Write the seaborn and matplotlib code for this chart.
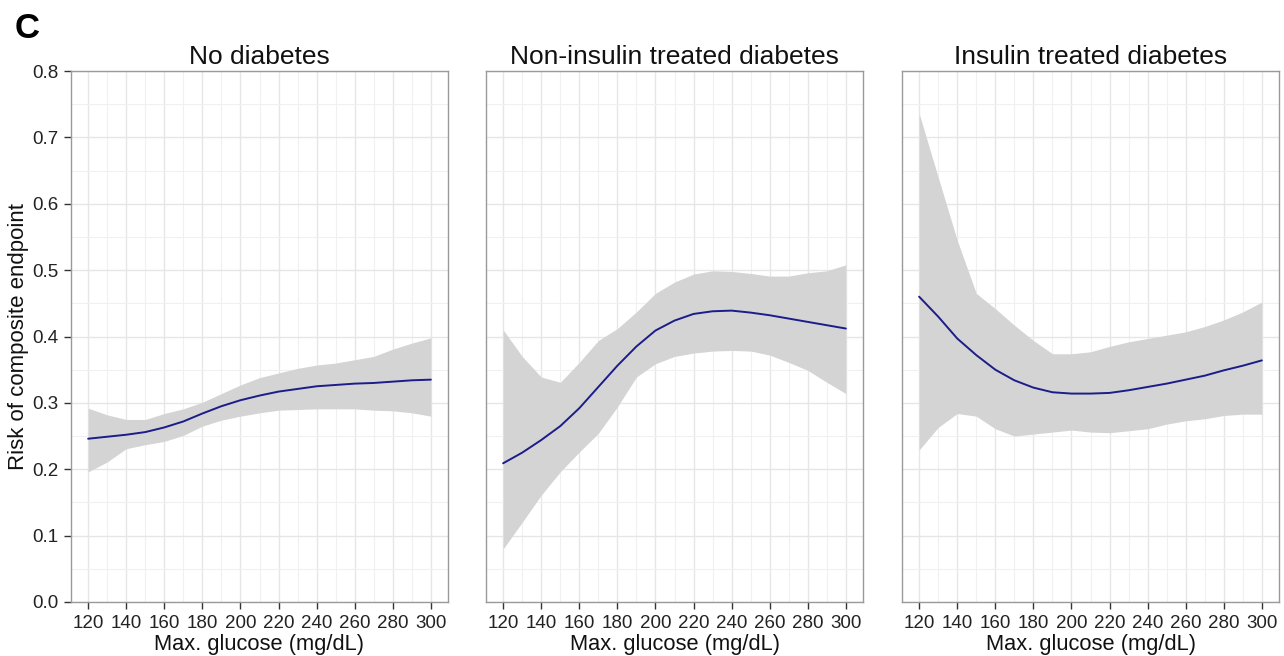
import numpy as np
import pandas as pd
import matplotlib
matplotlib.use("Agg")
import matplotlib.pyplot as plt
from matplotlib.ticker import MultipleLocator
import seaborn as sns

# ---------------- data ----------------
glucose = [120, 130, 140, 150, 160, 170, 180, 190, 200, 210,
           220, 230, 240, 250, 260, 270, 280, 290, 300]

panel_titles = ["No diabetes", "Non-insulin treated diabetes", "Insulin treated diabetes"]

# No diabetes
nodm_fit = [0.246, 0.249, 0.252, 0.256, 0.263, 0.272, 0.284, 0.295, 0.304, 0.311,
            0.317, 0.321, 0.325, 0.327, 0.329, 0.330, 0.332, 0.334, 0.335]
nodm_hi = [0.292, 0.282, 0.275, 0.275, 0.284, 0.291, 0.301, 0.314, 0.327, 0.338,
           0.345, 0.352, 0.357, 0.360, 0.365, 0.370, 0.381, 0.390, 0.398]
nodm_lo = [0.196, 0.211, 0.231, 0.237, 0.242, 0.251, 0.265, 0.274, 0.280, 0.285,
           0.289, 0.290, 0.291, 0.291, 0.291, 0.289, 0.288, 0.285, 0.280]

# Non-insulin treated diabetes
nidm_fit = [0.209, 0.225, 0.244, 0.265, 0.292, 0.324, 0.356, 0.385, 0.409, 0.424,
            0.434, 0.438, 0.439, 0.436, 0.432, 0.427, 0.422, 0.417, 0.412]
nidm_hi = [0.410, 0.370, 0.339, 0.331, 0.361, 0.394, 0.412, 0.437, 0.465, 0.482,
           0.494, 0.499, 0.498, 0.495, 0.491, 0.491, 0.496, 0.499, 0.508]
nidm_lo = [0.080, 0.120, 0.161, 0.196, 0.226, 0.254, 0.294, 0.339, 0.359, 0.370,
           0.375, 0.378, 0.379, 0.378, 0.372, 0.361, 0.349, 0.331, 0.314]

# Insulin treated diabetes
idm_fit = [0.460, 0.430, 0.397, 0.372, 0.350, 0.334, 0.323, 0.316, 0.314, 0.314,
           0.315, 0.319, 0.324, 0.329, 0.335, 0.341, 0.349, 0.356, 0.364]
idm_hi = [0.736, 0.640, 0.545, 0.465, 0.442, 0.417, 0.394, 0.374, 0.374, 0.377,
          0.385, 0.392, 0.397, 0.402, 0.407, 0.415, 0.425, 0.437, 0.452]
idm_lo = [0.229, 0.263, 0.284, 0.280, 0.261, 0.250, 0.253, 0.256, 0.259, 0.256,
          0.255, 0.258, 0.261, 0.268, 0.273, 0.276, 0.281, 0.283, 0.283]

fits = [nodm_fit, nidm_fit, idm_fit]
his = [nodm_hi, nidm_hi, idm_hi]
los = [nodm_lo, nidm_lo, idm_lo]

frames = []
for t, f, h, l in zip(panel_titles, fits, his, los):
    frames.append(pd.DataFrame({"panel": t, "glucose": glucose,
                                "fit": f, "hi": h, "lo": l}))
df = pd.concat(frames, ignore_index=True)

# ---------------- style ----------------
sns.set_theme(style="white")
plt.rcParams["font.family"] = ["Liberation Sans", "DejaVu Sans"]

W, H = 1284, 656
fig = plt.figure(figsize=(W / 100, H / 100), dpi=100)

lefts = [71, 486, 902]
width_px = 377
top_px, bottom_px = 71, 602

line_color = "#1c1c8a"
band_color = "#d4d4d4"
border_color = "#9a9a9a"
tick_color = "#333333"

for i, title in enumerate(panel_titles):
    ax = fig.add_axes([lefts[i] / W, 1 - bottom_px / H, width_px / W,
                       (bottom_px - top_px) / H])
    sub = df[df["panel"] == title]
    ax.fill_between(sub["glucose"], sub["lo"], sub["hi"], color=band_color,
                    linewidth=0, zorder=2)
    sns.lineplot(data=sub, x="glucose", y="fit", ax=ax, color=line_color,
                 linewidth=1.4, zorder=3)

    ax.set_xlim(111, 309)
    ax.set_ylim(0, 0.8)
    ax.xaxis.set_major_locator(MultipleLocator(20))
    ax.xaxis.set_minor_locator(MultipleLocator(10))
    ax.yaxis.set_major_locator(MultipleLocator(0.1))
    ax.yaxis.set_minor_locator(MultipleLocator(0.05))
    ax.set_xticks(list(range(120, 301, 20)))
    ax.set_xticklabels([str(v) for v in range(120, 301, 20)])

    ax.grid(which="major", color="#e6e6e6", linewidth=1.0, zorder=0)
    ax.grid(which="minor", color="#f0f0f0", linewidth=0.8, zorder=0)
    ax.set_axisbelow(True)

    for s in ax.spines.values():
        s.set_color(border_color)
        s.set_linewidth(1.0)

    ax.tick_params(axis="x", which="major", direction="out", length=5,
                   width=1.0, color=tick_color, labelsize=13.5,
                   labelcolor="#222222", pad=4, bottom=True)
    ax.tick_params(axis="both", which="minor", length=0)
    if i == 0:
        ax.tick_params(axis="y", which="major", direction="out", length=5,
                       width=1.0, color=tick_color, labelsize=13.5,
                       labelcolor="#222222", pad=4, left=True)
        ax.set_yticks([round(v * 0.1, 1) for v in range(0, 9)])
        ax.set_yticklabels([f"{v * 0.1:.1f}" for v in range(0, 9)])
        ax.set_ylabel("Risk of composite endpoint", fontsize=16, color="#111111",
                      labelpad=2)
    else:
        ax.tick_params(axis="y", which="major", length=0, labelleft=False)
        ax.set_ylabel("")

    ax.set_xlabel("Max. glucose (mg/dL)", fontsize=15.75, color="#111111",
                  labelpad=2)
    ax.set_title(title, fontsize=19, color="#111111", pad=5)

fig.text(15 / W, 1 - 28 / H, "C", fontsize=25, fontweight="bold",
         va="center", ha="left", color="#000000")

fig.savefig("out.png", dpi=100)
